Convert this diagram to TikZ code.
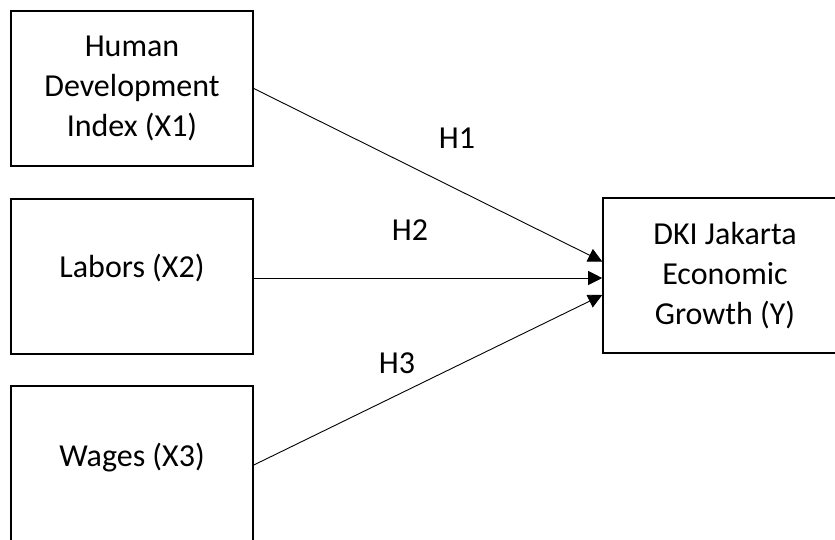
\documentclass[tikz,border=0pt]{standalone}
\usepackage{fontspec}
\setmainfont{Carlito}
\usetikzlibrary{arrows.meta}
\begin{document}
\begin{tikzpicture}[x=1pt,y=-1pt,
  box/.style={draw=black,line width=1.6pt,rectangle,minimum width=242pt,minimum height=155pt,
    align=center,inner sep=0pt,font=\fontsize{32}{40}\selectfont},
  conn/.style={draw=black,line width=0.9pt,-{Triangle[length=14pt,width=14pt]}},
  lbl/.style={font=\fontsize{32}{40}\selectfont,inner sep=0pt}]
\useasboundingbox (0,0) rectangle (835,539);
\clip (0,0) rectangle (835,539);
\node[box] (x1) at (132,88.5) {Human\\Development\\Index (X1)};
\node[box] (x2) at (132,276.5) {};
\node[lbl] (x2t) at (132,268) {Labors (X2)};
\node[box] (x3) at (132,463.5) {};
\node[lbl] (x3t) at (132,458) {Wages (X3)};
\node[box,minimum width=244pt] (y) at (725,275.5) {DKI Jakarta\\Economic\\Growth (Y)};
\node[lbl] (h1) at (457,138) {H1};
\node[lbl] (h2) at (410,230) {H2};
\node[lbl] (h3) at (397,363) {H3};
\draw[conn] (x1.east) -- ([yshift=14pt]y.west);
\draw[conn] ([yshift=-1.5pt]x2.east) -- ([yshift=-2.5pt]y.west);
\draw[conn] ([yshift=-1.5pt]x3.east) -- ([yshift=-19.5pt]y.west);
\end{tikzpicture}
\end{document}
